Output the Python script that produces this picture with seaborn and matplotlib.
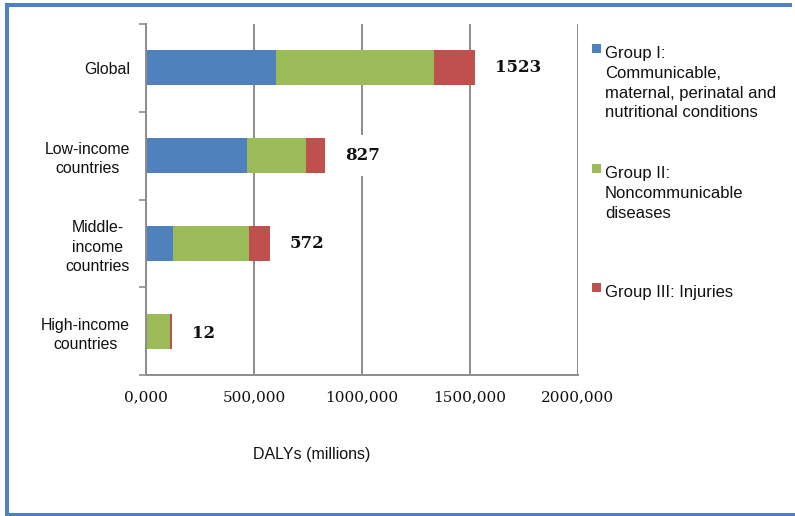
import matplotlib
matplotlib.use("Agg")
import matplotlib.pyplot as plt
from matplotlib.patches import Rectangle
from matplotlib.ticker import FixedLocator
import seaborn as sns
import pandas as pd

# DALYs by income group and cause group
regions = ["Global", "Low-income\ncountries", "Middle-\nincome\ncountries", "High-income\ncountries"]
group1 = [603, 468, 125, 5]      # Communicable, maternal, perinatal and nutritional
group2 = [730, 273, 352, 105]    # Noncommunicable diseases
group3 = [190, 86, 95, 10]       # Injuries
total_labels = ["1523", "827", "572", "12"]

x_ticks = [0, 500, 1000, 1500, 2000]
x_tick_labels = ["0,000", "500,000", "1000,000", "1500,000", "2000,000"]

legend_labels = [
    "Group I:\nCommunicable,\nmaternal, perinatal and\nnutritional conditions",
    "Group II:\nNoncommunicable\ndiseases",
    "Group III: Injuries",
]
colors = ["#4F81BD", "#9BBB59", "#C0504D"]

sns.set_theme(style="white")
plt.rcParams["font.family"] = ["Liberation Sans", "DejaVu Sans"]

df = pd.DataFrame({"region": regions, "g1": group1, "g2": group2, "g3": group3})
df["cum1"] = df["g1"]
df["cum2"] = df["g1"] + df["g2"]
df["cum3"] = df["g1"] + df["g2"] + df["g3"]

W, H = 795, 516
PX = 72 / 100  # points per pixel at 100 dpi
fig = plt.figure(figsize=(W / 100, H / 100), dpi=100)
ax = fig.add_axes([146 / W, 1 - 375 / H, (578 - 146) / W, (375 - 24) / H])

# stacked bars: draw cumulative totals from the outermost segment inward
for col, c in zip(["cum3", "cum2", "cum1"], [colors[2], colors[1], colors[0]]):
    sns.barplot(data=df, x=col, y="region", order=regions, orient="h",
                color=c, width=0.4, saturation=1, ax=ax, linewidth=0)

ax.set_xlim(0, 2000)
ax.set_ylim(3.5, -0.5)
ax.set_xlabel("")
ax.set_ylabel("")

# axes styling
grid_c = "#8C8C8C"
ax.set_axisbelow(True)
ax.xaxis.grid(True, color=grid_c, linewidth=1.4)
ax.yaxis.grid(False)
for s in ["top", "right"]:
    ax.spines[s].set_visible(False)
for s in ["left", "bottom"]:
    ax.spines[s].set_color(grid_c)
    ax.spines[s].set_linewidth(1.4)

ax.set_xticks(x_ticks)
ax.set_xticklabels(x_tick_labels, fontfamily="DejaVu Serif", fontsize=11, color="#111111")
ax.tick_params(axis="x", direction="out", length=4, width=1.2, color=grid_c, pad=7)

ax.set_yticks(range(len(regions)))
ax.set_yticklabels(regions, fontsize=11.4, color="#111111", linespacing=1.36)
for t in ax.get_yticklabels():
    t.set_multialignment("center")
ax.tick_params(axis="y", which="major", length=0, pad=16 * PX)
ax.yaxis.set_minor_locator(FixedLocator([-0.5, 0.5, 1.5, 2.5, 3.5]))
ax.tick_params(axis="y", which="minor", direction="out", length=5, width=1.2,
               color=grid_c, left=True)

# totals next to each bar
for i, (tot, lab) in enumerate(zip(df["cum3"], total_labels)):
    ax.annotate(lab, xy=(tot, i), xytext=(14.5, -2 if i == 3 else 0),
                textcoords="offset points",
                ha="left", va="center", fontfamily="DejaVu Serif", fontweight="bold",
                fontsize=12, color="#111111",
                bbox=dict(boxstyle="square,pad=0.7", fc="white", ec="none"))

fig.text(312 / W, 1 - 455 / H, "DALYs (millions)", ha="center", va="center",
         fontsize=11.5, color="#111111")

# legend entries
legend_tops = [51, 171, 290]
for lab, c, y in zip(legend_labels, colors, legend_tops):
    fig.add_artist(Rectangle((592 / W, 1 - (y + 2) / H), 9 / W, 9 / H,
                             transform=fig.transFigure, color=c, lw=0))
    fig.text(605 / W, 1 - (y - 5) / H, lab, ha="left", va="top",
             fontsize=12, color="#111111", linespacing=1.4)

# frame around the figure
frame_c = "#4F81BD"
fig.add_artist(Rectangle((5 / W, 1 - 7 / H), (792 - 5) / W, 4 / H,
                         transform=fig.transFigure, color=frame_c, lw=0))
fig.add_artist(Rectangle((5 / W, 0), 4 / W, 1 - 3 / H,
                         transform=fig.transFigure, color=frame_c, lw=0))
fig.add_artist(Rectangle((5 / W, 0), (W - 5) / W, 3 / H,
                         transform=fig.transFigure, color=frame_c, lw=0))

fig.savefig("out.png", dpi=100)
